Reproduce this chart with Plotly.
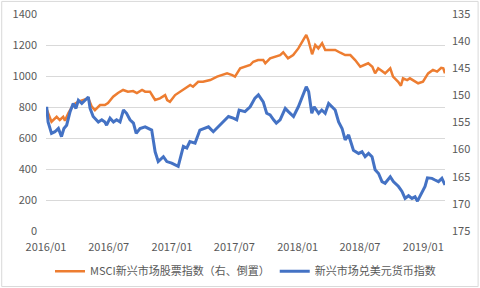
import plotly.graph_objects as go

# MSCI emerging markets equity index (left axis)
msci_dates = ["2016-01-03","2016-01-17","2016-02-01","2016-02-10","2016-02-20","2016-02-25","2016-03-06","2016-03-20",
              "2016-04-04","2016-04-18","2016-05-03","2016-05-13","2016-05-22","2016-06-06","2016-06-20","2016-06-29",
              "2016-07-14","2016-07-28","2016-08-12","2016-08-26","2016-09-10","2016-09-21","2016-10-06","2016-10-15",
              "2016-10-29","2016-11-07","2016-11-13","2016-11-27","2016-12-12","2016-12-18","2016-12-26","2017-01-10",
              "2017-01-25","2017-02-08","2017-02-23","2017-03-03","2017-03-18","2017-04-01","2017-04-22","2017-05-12",
              "2017-05-27","2017-06-10","2017-06-25","2017-07-03","2017-07-18","2017-08-01","2017-08-16","2017-08-25",
              "2017-09-08","2017-09-23","2017-09-29","2017-10-13","2017-10-28","2017-11-11","2017-11-20","2017-12-04",
              "2017-12-19","2018-01-03","2018-01-17","2018-01-26","2018-02-01","2018-02-12","2018-02-21","2018-03-02",
              "2018-03-13","2018-03-22","2018-04-06","2018-04-20","2018-05-05","2018-05-19","2018-06-03","2018-06-17",
              "2018-07-02","2018-07-16","2018-07-25","2018-08-06","2018-08-14","2018-08-23","2018-09-04","2018-09-12",
              "2018-09-27","2018-10-05","2018-10-20","2018-10-28","2018-11-03","2018-11-15","2018-11-23","2018-12-02",
              "2018-12-17","2018-12-31","2019-01-15","2019-01-29","2019-02-10","2019-02-22","2019-02-28","2019-03-05"]
msci_values = [785,705,737,716,737,712,761,813,
               834,845,856,802,780,813,813,826,
               866,890,910,899,903,890,910,899,
               899,866,845,856,877,845,834,877,
               899,920,942,931,963,963,974,996,
               1006,1017,1006,996,1050,1060,1071,1092,
               1103,1103,1082,1114,1124,1135,1153,1114,
               1135,1178,1232,1265,1232,1140,1200,1178,
               1211,1168,1168,1168,1150,1135,1135,1103,
               1060,1071,1082,1060,1017,1050,1028,1017,
               1050,996,963,937,985,974,985,974,
               953,963,1017,1039,1028,1053,1050,1017]

# EM currency index vs USD (right axis, inverted)
fx_dates = ["2016-01-03","2016-01-07","2016-01-17","2016-01-27","2016-02-06","2016-02-15","2016-02-22","2016-03-01",
            "2016-03-11","2016-03-20","2016-03-28","2016-04-04","2016-04-14","2016-04-23","2016-05-03","2016-05-08",
            "2016-05-17","2016-06-01","2016-06-11","2016-06-20","2016-06-25","2016-07-05","2016-07-15","2016-07-24",
            "2016-08-03","2016-08-13","2016-08-22","2016-09-01","2016-09-11","2016-09-19","2016-09-30","2016-10-15",
            "2016-11-03","2016-11-13","2016-11-22","2016-12-07","2016-12-17","2016-12-31","2017-01-19","2017-02-03",
            "2017-02-13","2017-02-22","2017-03-09","2017-03-23","2017-04-02","2017-04-17","2017-05-01","2017-05-21",
            "2017-06-04","2017-06-14","2017-06-28","2017-07-08","2017-07-15","2017-08-01","2017-08-16","2017-08-30",
            "2017-09-09","2017-09-23","2017-10-03","2017-10-13","2017-10-23","2017-10-31","2017-11-11","2017-11-26",
            "2017-12-05","2017-12-20","2018-01-03","2018-01-18","2018-01-26","2018-02-02","2018-02-11","2018-02-18",
            "2018-03-03","2018-03-12","2018-03-22","2018-04-01","2018-04-11","2018-04-20","2018-04-30","2018-05-10",
            "2018-05-19","2018-05-29","2018-06-12","2018-06-27","2018-07-07","2018-07-16","2018-07-26","2018-08-05",
            "2018-08-14","2018-08-24","2018-09-03","2018-09-12","2018-09-27","2018-10-06","2018-10-21","2018-10-31",
            "2018-11-09","2018-11-19","2018-11-29","2018-12-08","2018-12-15","2018-12-27","2019-01-06","2019-01-13",
            "2019-01-26","2019-02-04","2019-02-14","2019-02-24","2019-03-05"]
fx_values = [152.1,154.9,157.0,156.7,156.1,157.6,156.1,155.5,
             153.0,151.5,152.4,150.9,151.5,150.9,150.3,152.4,
             153.9,154.9,154.5,154.9,155.5,154.2,154.9,154.5,
             154.9,152.7,153.3,154.5,155.1,157.0,156.1,155.8,
             156.4,160.4,162.2,161.3,162.2,162.5,163.1,159.4,
             159.7,158.5,158.8,156.4,156.1,155.8,156.7,155.5,
             154.5,153.9,154.2,154.5,152.7,153.0,152.1,150.5,
             149.9,151.2,153.3,153.6,154.5,155.1,154.5,152.4,
             153.0,153.9,152.1,149.6,148.4,149.3,153.3,152.1,
             153.3,152.7,153.3,151.5,152.1,152.7,154.9,156.1,
             158.2,157.3,160.1,160.7,160.4,161.3,160.7,161.3,
             163.7,164.4,165.9,166.2,165.0,165.9,166.8,167.7,
             169.0,168.5,169.0,168.7,169.5,168.1,166.8,165.2,
             165.3,165.6,165.9,165.3,166.5]

x_tickvals = ["2016-01-01","2016-07-01","2017-01-01","2017-07-01","2018-01-01","2018-07-01","2019-01-01"]
x_ticktext = ["2016/01","2016/07","2017/01","2017/07","2018/01","2018/07","2019/01"]
left_ticks = [0, 200, 400, 600, 800, 1000, 1200, 1400]
right_ticks = [135, 140, 145, 150, 155, 160, 165, 170, 175]

names = ["MSCI新兴市场股票指数（右、倒置）", "新兴市场兑美元货币指数"]

FONT = "Noto Sans CJK SC, Noto Sans, sans-serif"
GREY = "#595959"

fig = go.Figure()
fig.add_trace(go.Scatter(x=msci_dates, y=msci_values, mode="lines", name=names[0],
                         line=dict(color="#ED7D31", width=2.5), yaxis="y"))
fig.add_trace(go.Scatter(x=fx_dates, y=fx_values, mode="lines", name=names[1],
                         line=dict(color="#4472C4", width=3), yaxis="y2"))

fig.update_layout(
    width=480, height=288,
    margin=dict(l=46, r=35, t=14, b=57, autoexpand=False),
    paper_bgcolor="white", plot_bgcolor="white",
    font=dict(family=FONT, size=11, color=GREY),
    xaxis=dict(range=["2016-01-01", "2019-03-05"], tickvals=x_tickvals, ticktext=x_ticktext,
               showgrid=False, zeroline=False, showline=False, ticks="", automargin=False,
               ticklabelstandoff=8, tickfont=dict(size=11, color=GREY)),
    yaxis=dict(range=[0, 1400], tickvals=left_ticks, showgrid=True, gridcolor="#d9d9d9",
               gridwidth=1, zeroline=False, showline=False, ticks="", ticklabelstandoff=8,
               automargin=False, tickfont=dict(size=11, color=GREY)),
    yaxis2=dict(range=[175, 135], tickvals=right_ticks, overlaying="y", side="right",
                showgrid=False, zeroline=False, showline=False, ticks="", ticklabelstandoff=6,
                automargin=False, tickfont=dict(size=11, color=GREY)),
    legend=dict(orientation="h", x=0.5, xanchor="center", y=-0.185, yanchor="middle",
                font=dict(size=11, color=GREY), itemwidth=30, tracegroupgap=0,
                bgcolor="rgba(0,0,0,0)"),
    shapes=[dict(type="rect", xref="paper", yref="paper", x0=-0.111, x1=1.083,
                 y0=-0.256, y1=1.058, line=dict(color="#d9d9d9", width=1))],
)

fig.write_html("out.html")
